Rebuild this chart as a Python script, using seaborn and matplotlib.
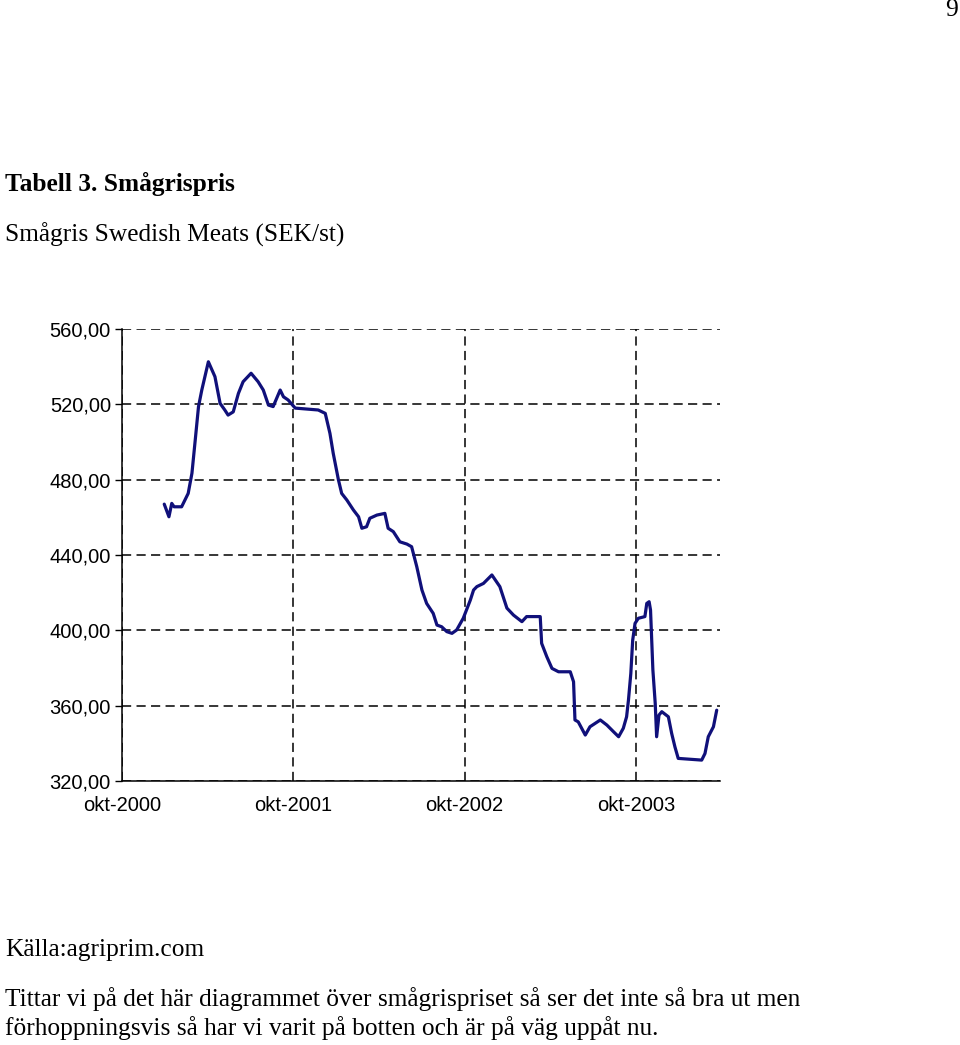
import pandas as pd
import seaborn as sns
import matplotlib.pyplot as plt
from matplotlib.ticker import FuncFormatter

# Smågrispris (SEK/st)
dates = ["2000-12-30", "2001-01-09", "2001-01-15", "2001-01-20", "2001-02-05", "2001-02-19",
         "2001-02-27", "2001-03-06", "2001-03-13", "2001-03-20", "2001-04-03", "2001-04-17",
         "2001-04-28", "2001-05-08", "2001-05-15", "2001-05-26", "2001-06-06", "2001-06-16",
         "2001-07-03", "2001-07-18", "2001-07-29", "2001-08-09", "2001-08-19", "2001-09-03",
         "2001-09-10", "2001-09-20", "2001-10-05", "2001-11-23", "2001-12-08", "2001-12-18",
         "2001-12-25", "2002-01-05", "2002-01-12", "2002-01-23", "2002-02-06", "2002-02-17",
         "2002-02-24", "2002-03-06", "2002-03-13", "2002-03-28", "2002-04-14", "2002-04-21",
         "2002-05-02", "2002-05-16", "2002-05-31", "2002-06-10", "2002-06-21", "2002-07-02",
         "2002-07-12", "2002-07-26", "2002-08-03", "2002-08-13", "2002-08-24", "2002-09-04",
         "2002-09-14", "2002-09-28", "2002-10-13", "2002-10-20", "2002-10-27", "2002-11-10",
         "2002-11-28", "2002-12-15", "2002-12-30", "2003-01-13", "2003-01-31", "2003-02-10",
         "2003-03-11", "2003-03-14", "2003-03-25", "2003-04-05", "2003-04-19", "2003-05-14",
         "2003-05-21", "2003-05-24", "2003-05-31", "2003-06-15", "2003-06-25", "2003-07-17",
         "2003-07-31", "2003-08-14", "2003-08-25", "2003-09-04", "2003-09-11", "2003-09-15",
         "2003-09-20", "2003-09-24", "2003-09-29", "2003-10-06", "2003-10-20", "2003-10-24",
         "2003-10-29", "2003-11-01", "2003-11-06", "2003-11-11", "2003-11-14", "2003-11-19",
         "2003-11-25", "2003-12-09", "2003-12-16", "2003-12-23", "2003-12-30", "2004-02-18",
         "2004-02-25", "2004-03-03", "2004-03-14", "2004-03-21"]
pris = [467.0, 460.3, 467.4, 465.6, 465.6, 472.7,
        483.4, 501.0, 518.8, 527.6, 542.6, 534.7,
        520.5, 517.0, 514.3, 516.0, 525.8, 532.0,
        536.5, 532.0, 527.6, 519.6, 518.8, 527.6,
        524.0, 522.3, 518.0, 517.0, 515.2, 504.6,
        494.0, 480.0, 472.7, 469.2, 463.9, 460.3,
        454.2, 455.0, 459.5, 461.2, 462.1, 454.2,
        452.4, 447.0, 445.8, 444.4, 433.8, 421.4,
        414.3, 409.0, 402.8, 401.9, 399.3, 398.4,
        400.2, 406.4, 416.0, 421.4, 423.2, 424.9,
        429.4, 423.2, 411.8, 408.1, 404.6, 407.3,
        407.3, 393.1, 386.0, 379.8, 378.0, 378.0,
        372.7, 352.4, 351.4, 344.4, 348.8, 352.4,
        349.7, 346.2, 343.5, 348.0, 354.1, 363.0,
        377.1, 394.8, 403.7, 406.4, 407.3, 414.3,
        415.2, 410.8, 379.0, 361.2, 343.5, 355.0,
        356.8, 354.1, 345.3, 338.1, 332.0, 331.1,
        334.6, 343.5, 348.8, 357.6]

x_ticks = ["2000-10-01", "2001-10-01", "2002-10-01", "2003-10-01"]
x_labels = ["okt-2000", "okt-2001", "okt-2002", "okt-2003"]
y_ticks = [320, 360, 400, 440, 480, 520, 560]

df = pd.DataFrame({"datum": pd.to_datetime(dates), "pris": pris})

sns.set_style("white")
plt.rcParams['font.family'] = ['Liberation Sans', 'DejaVu Sans']
plt.rcParams['text.color'] = 'black'

fig = plt.figure(figsize=(9.6, 10.45), dpi=100)
ax = fig.add_axes([122 / 960, 1 - 781 / 1045, 598 / 960, 452 / 1045])

sns.lineplot(data=df, x="datum", y="pris", ax=ax, color="#10107a", linewidth=2.3)

ax.set_xlim(pd.Timestamp("2000-10-01"), pd.Timestamp("2004-03-28"))
ax.set_ylim(320, 560)
ax.set_xticks(pd.to_datetime(x_ticks))
ax.set_xticklabels(x_labels)
ax.set_yticks(y_ticks)
ax.yaxis.set_major_formatter(FuncFormatter(lambda v, p: f"{v:.2f}".replace(".", ",")))
ax.set_xlabel("")
ax.set_ylabel("")

ax.grid(True, color="black", linestyle=(0, (6, 3.5)), linewidth=1.1)
for s in ["top", "right"]:
    ax.spines[s].set_visible(False)
for s in ["left", "bottom"]:
    ax.spines[s].set_color("black")
    ax.spines[s].set_linewidth(1.1)
ax.tick_params(axis="y", which="major", left=True, length=5, width=1, color="black",
               labelcolor="black", labelsize=14.5, pad=3)
ax.tick_params(axis="x", which="major", bottom=False, labelcolor="black",
               labelsize=14.5, pad=7)
ax.set_axisbelow(True)

# page text
serif = ['Liberation Serif', 'DejaVu Serif']
fs = 18.3
fig.text(5 / 960, 1 - 184 / 1045, "Tabell 3. Smågrispris", family=serif, weight="bold",
         fontsize=fs, va="center", ha="left")
fig.text(5 / 960, 1 - 235 / 1045, "Smågris Swedish Meats (SEK/st)", family=serif,
         fontsize=fs, va="center", ha="left")
fig.text(5 / 960, 1 - 950 / 1045, "Källa:agriprim.com", family=serif,
         fontsize=fs, va="center", ha="left")
fig.text(5 / 960, 1 - 999 / 1045,
         "Tittar vi på det här diagrammet över smågrispriset så ser det inte så bra ut men",
         family=serif, fontsize=fs, va="center", ha="left")
fig.text(5 / 960, 1 - 1028 / 1045,
         "förhoppningsvis så har vi varit på botten och är på väg uppåt nu.",
         family=serif, fontsize=fs, va="center", ha="left")
fig.text(958 / 960, 1 - 10 / 1045, "9", family=serif, fontsize=fs, va="center", ha="right")

fig.savefig("out.png", dpi=100)
